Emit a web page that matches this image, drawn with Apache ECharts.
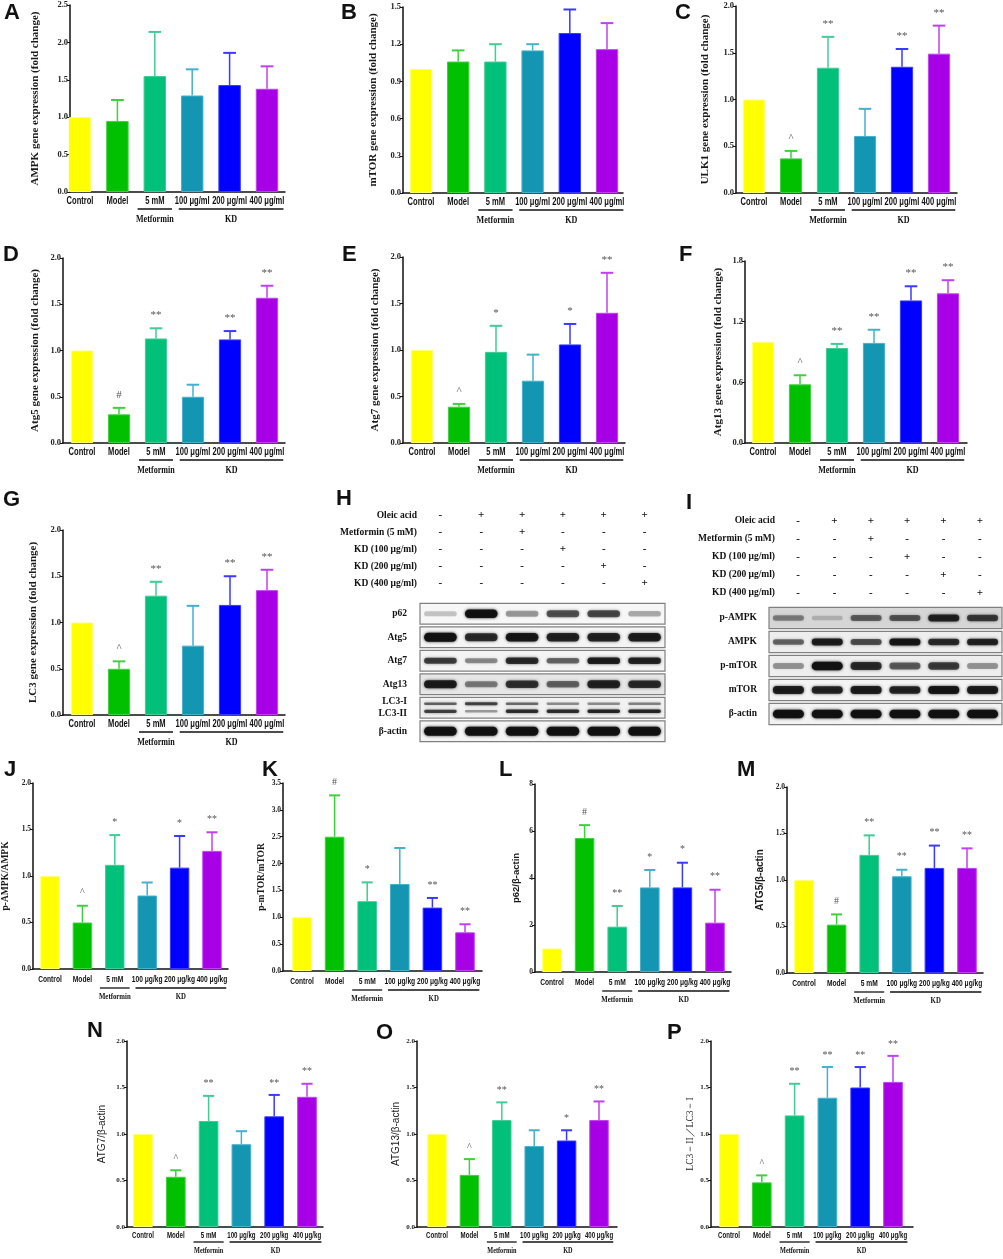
<!DOCTYPE html>
<html style="height: 100%">
<head>
  <meta charset="UTF-8" />
  <title>Autophagy markers</title>
  <script src="https://cdn.jsdelivr.net/npm/echarts/dist/echarts.min.js"></script>
  <script>
    // groups on the x axis
    const groupsMl = ['Control', 'Model', '5 mM', '100 μg/ml', '200 μg/ml', '400 μg/ml'];
    const groupsKg = ['Control', 'Model', '5 mM', '100 μg/kg', '200 μg/kg', '400 μg/kg'];
    const groupNames = ['Metformin', 'KD'];
    const barColors = ['#ffff00', '#00c000', '#00c07a', '#1496b2', '#0000ff', '#a800e6'];
    const errColors = ['#ffff70', '#3fd03f', '#40cc94', '#45b0cc', '#3a3aff', '#c040f0'];

    // gene expression (fold change): mean, top of error bar, mark
    const ampkMean = [1.0, 0.95, 1.55, 1.29, 1.43, 1.38];
    const ampkTop = [1.0, 1.23, 2.14, 1.64, 1.86, 1.68];
    const ampkSig = ['', '', '', '', '', ''];
    const mtorMean = [1.0, 1.06, 1.06, 1.15, 1.29, 1.16];
    const mtorTop = [1.0, 1.15, 1.2, 1.2, 1.48, 1.37];
    const mtorSig = ['', '', '', '', '', ''];
    const ulk1Mean = [1.0, 0.37, 1.34, 0.61, 1.35, 1.49];
    const ulk1Top = [1.0, 0.45, 1.67, 0.9, 1.54, 1.79];
    const ulk1Sig = ['', '^', '**', '', '**', '**'];
    const atg5Mean = [1.0, 0.31, 1.13, 0.5, 1.12, 1.57];
    const atg5Top = [1.0, 0.38, 1.24, 0.63, 1.21, 1.70];
    const atg5Sig = ['', '#', '**', '', '**', '**'];
    const atg7Mean = [1.0, 0.39, 0.98, 0.67, 1.06, 1.40];
    const atg7Top = [1.0, 0.42, 1.26, 0.95, 1.28, 1.83];
    const atg7Sig = ['', '^', '*', '', '*', '**'];
    const atg13Mean = [1.0, 0.58, 0.94, 0.99, 1.41, 1.48];
    const atg13Top = [1.0, 0.67, 0.98, 1.12, 1.55, 1.61];
    const atg13Sig = ['', '^', '**', '**', '**', '**'];
    const lc3Mean = [1.0, 0.5, 1.29, 0.75, 1.19, 1.35];
    const lc3Top = [1.0, 0.58, 1.44, 1.18, 1.50, 1.57];
    const lc3Sig = ['', '^', '**', '', '**', '**'];

    // protein ratios
    const pampkMean = [1.0, 0.5, 1.12, 0.79, 1.09, 1.27];
    const pampkTop = [1.0, 0.68, 1.44, 0.93, 1.43, 1.47];
    const pampkSig = ['', '^', '*', '', '*', '**'];
    const pmtorMean = [1.0, 2.5, 1.3, 1.62, 1.18, 0.72];
    const pmtorTop = [1.0, 3.27, 1.65, 2.29, 1.36, 0.87];
    const pmtorSig = ['', '#', '*', '', '**', '**'];
    const p62Mean = [1.0, 5.7, 1.93, 3.6, 3.6, 2.1];
    const p62Top = [1.0, 6.25, 2.81, 4.34, 4.65, 3.5];
    const p62Sig = ['', '#', '**', '*', '*', '**'];
    const ATG5Mean = [1.0, 0.52, 1.27, 1.04, 1.13, 1.13];
    const ATG5Top = [1.0, 0.63, 1.48, 1.11, 1.37, 1.34];
    const ATG5Sig = ['', '#', '**', '**', '**', '**'];
    const ATG7Mean = [1.0, 0.54, 1.14, 0.89, 1.19, 1.40];
    const ATG7Top = [1.0, 0.61, 1.41, 1.03, 1.42, 1.54];
    const ATG7Sig = ['', '^', '**', '', '**', '**'];
    const ATG13Mean = [1.0, 0.56, 1.15, 0.87, 0.93, 1.15];
    const ATG13Top = [1.0, 0.73, 1.34, 1.04, 1.04, 1.35];
    const ATG13Sig = ['', '^', '**', '', '*', '**'];
    const lc3RatioMean = [1.0, 0.48, 1.20, 1.39, 1.50, 1.56];
    const lc3RatioTop = [1.0, 0.555, 1.54, 1.72, 1.72, 1.84];
    const lc3RatioSig = ['', '^', '**', '**', '**', '**'];

    // western blots
    const lanes = ['1', '2', '3', '4', '5', '6'];
    const treatH = ['Oleic acid', 'Metformin (5 mM)', 'KD (100 μg/ml)', 'KD (200 μg/ml)', 'KD (400 μg/ml)'];
    const treatSigns = [
      ['-', '+', '+', '+', '+', '+'],
      ['-', '-', '+', '-', '-', '-'],
      ['-', '-', '-', '+', '-', '-'],
      ['-', '-', '-', '-', '+', '-'],
      ['-', '-', '-', '-', '-', '+']
    ];
    const blotRowsH = ['p62', 'Atg5', 'Atg7', 'Atg13', 'LC3-I\nLC3-II', 'β-actin'];
    const bandP62 = [0.12, 1.0, 0.3, 0.6, 0.65, 0.22];
    const bandAtg5 = [1.0, 0.8, 0.95, 0.85, 0.85, 0.9];
    const bandAtg7 = [0.7, 0.35, 0.8, 0.5, 0.9, 0.85];
    const bandAtg13 = [0.9, 0.4, 0.75, 0.5, 0.85, 0.8];
    const bandLc3I = [0.55, 0.7, 0.5, 0.35, 0.35, 0.4];
    const bandLc3II = [0.7, 0.3, 0.8, 0.8, 0.85, 0.85];
    const bandActinH = [1, 1, 1, 1, 1, 1];
    const blotRowsI = ['p-AMPK', 'AMPK', 'p-mTOR', 'mTOR', 'β-actin'];
    const bandPAmpk = [0.35, 0.1, 0.5, 0.55, 0.85, 0.7];
    const bandAmpk = [0.5, 0.9, 0.6, 0.95, 0.8, 0.85];
    const bandPMtor = [0.3, 1.0, 0.8, 0.55, 0.7, 0.3];
    const bandMtor = [0.9, 0.85, 0.9, 0.85, 0.95, 0.9];
    const bandActinI = [1, 1, 1, 1, 1, 1];

    const serif = "'Liberation Serif', 'Times New Roman', serif";
    const sans = "'Liberation Sans', Arial, sans-serif";

    const sizes = {
      big: { tick: 8.5, cat: 10.5, catScale: 0.72, group: 9.5, groupScale: 0.85, labelGap: 9, lineGap: 17, groupGap: 28, sig: 11, sigGap: 13 },
      mid: { tick: 7.5, cat: 9.5, catScale: 0.7, group: 8.5, groupScale: 0.8, labelGap: 10, lineGap: 19, groupGap: 28, sig: 10, sigGap: 13 },
      small: { tick: 7, cat: 9, catScale: 0.68, group: 8, groupScale: 0.78, labelGap: 9, lineGap: 15, groupGap: 24, sig: 10, sigGap: 12 }
    };

    // box: y-axis x, first bar x, bar step, axis end x, top, bottom
    const panels = [
      { tag: 'A', tagAt: [4, 2], title: 'AMPK gene expression (fold change)', cats: groupsMl, mean: ampkMean, top: ampkTop, sig: ampkSig, max: 2.5, step: 0.5, dec: 1, box: [70, 80, 37.4, 285, 5, 192], gap: 29, size: 'big', font: [serif, 'bold', 11] },
      { tag: 'B', tagAt: [341, 2], title: 'mTOR gene expression (fold change)', cats: groupsMl, mean: mtorMean, top: mtorTop, sig: mtorSig, max: 1.5, step: 0.3, dec: 1, box: [403, 421, 37.2, 623, 7, 193], gap: 24, size: 'big', font: [serif, 'bold', 11] },
      { tag: 'C', tagAt: [675, 2], title: 'ULK1 gene expression (fold change)', cats: groupsMl, mean: ulk1Mean, top: ulk1Top, sig: ulk1Sig, max: 2.0, step: 0.5, dec: 1, box: [736, 754, 37, 957, 6, 193], gap: 25, size: 'big', font: [serif, 'bold', 11] },
      { tag: 'D', tagAt: [3, 244], title: 'Atg5 gene expression (fold change)', cats: groupsMl, mean: atg5Mean, top: atg5Top, sig: atg5Sig, max: 2.0, step: 0.5, dec: 1, box: [63, 82, 37, 285, 258, 443], gap: 22, size: 'big', font: [serif, 'bold', 11] },
      { tag: 'E', tagAt: [342, 244], title: 'Atg7 gene expression (fold change)', cats: groupsMl, mean: atg7Mean, top: atg7Top, sig: atg7Sig, max: 2.0, step: 0.5, dec: 1, box: [403, 422, 37, 625, 257, 443], gap: 22, size: 'big', font: [serif, 'bold', 11] },
      { tag: 'F', tagAt: [679, 244], title: 'Atg13 gene expression (fold change)', cats: groupsMl, mean: atg13Mean, top: atg13Top, sig: atg13Sig, max: 1.8, step: 0.6, dec: 1, box: [745, 763, 37, 967, 261, 443], gap: 21, size: 'big', font: [serif, 'bold', 11] },
      { tag: 'G', tagAt: [3, 489], title: 'LC3 gene expression (fold change)', cats: groupsMl, mean: lc3Mean, top: lc3Top, sig: lc3Sig, max: 2.0, step: 0.5, dec: 1, box: [63, 82, 37, 285, 530, 715], gap: 24, size: 'big', font: [serif, 'bold', 11] },
      { tag: 'J', tagAt: [4, 759], title: 'p-AMPK/AMPK', cats: groupsKg, mean: pampkMean, top: pampkTop, sig: pampkSig, max: 2.0, step: 0.5, dec: 1, box: [33, 50, 32.4, 228, 783, 969], gap: 22, size: 'mid', font: [serif, 'bold', 9.5] },
      { tag: 'K', tagAt: [262, 759], title: 'p-mTOR/mTOR', cats: groupsKg, mean: pmtorMean, top: pmtorTop, sig: pmtorSig, max: 3.5, step: 0.5, dec: 1, box: [283, 302, 32.6, 482, 783, 971], gap: 16, size: 'mid', font: [serif, 'bold', 9.5] },
      { tag: 'L', tagAt: [499, 759], title: 'p62/β-actin', cats: groupsKg, mean: p62Mean, top: p62Top, sig: p62Sig, max: 8, step: 2, dec: 0, box: [535, 552, 32.6, 731, 784, 972], gap: 14, size: 'mid', font: [sans, 'bold', 9.5] },
      { tag: 'M', tagAt: [737, 759], title: 'ATG5/β-actin', cats: groupsKg, mean: ATG5Mean, top: ATG5Top, sig: ATG5Sig, max: 2.0, step: 0.5, dec: 1, box: [787, 804, 32.6, 983, 787, 973], gap: 22, size: 'mid', font: [sans, 'bold', 10] },
      { tag: 'N', tagAt: [87, 1020], title: 'ATG7/β-actin', cats: groupsKg, mean: ATG7Mean, top: ATG7Top, sig: ATG7Sig, max: 2.0, step: 0.5, dec: 1, box: [127, 143, 32.8, 323, 1041, 1227], gap: 20, size: 'small', font: [sans, 'normal', 10] },
      { tag: 'O', tagAt: [376, 1022], title: 'ATG13/β-actin', cats: groupsKg, mean: ATG13Mean, top: ATG13Top, sig: ATG13Sig, max: 2.0, step: 0.5, dec: 1, box: [417, 437, 32.4, 617, 1041, 1227], gap: 16, size: 'small', font: [sans, 'normal', 10] },
      { tag: 'P', tagAt: [667, 1022], title: 'LC3－II／LC3－I', cats: groupsKg, mean: lc3RatioMean, top: lc3RatioTop, sig: lc3RatioSig, max: 2.0, step: 0.5, dec: 1, box: [711, 729, 32.8, 913, 1041, 1227], gap: 16, size: 'small', font: [serif, 'normal', 9.5] }
    ];

    function errorBar(p, step, st) {
      return function (params, api) {
        const j = api.value(0);
        const a = api.coord([j, api.value(1)]);
        const b = api.coord([j, api.value(2)]);
        const half = step * 0.17;
        const kids = [];
        if (b[1] < a[1] - 0.5) {
          kids.push({ type: 'line', shape: { x1: a[0], y1: a[1], x2: b[0], y2: b[1] }, style: { stroke: errColors[j], lineWidth: 1.5 } });
          kids.push({ type: 'line', shape: { x1: b[0] - half, y1: b[1], x2: b[0] + half, y2: b[1] }, style: { stroke: errColors[j], lineWidth: 2 } });
        }
        const s = p.sig[params.dataIndex];
        if (s) {
          kids.push({
            type: 'text',
            style: { text: s, x: b[0], y: b[1] - st.sigGap, align: 'center', verticalAlign: 'middle', fontFamily: serif, fontSize: st.sig, fill: '#555' }
          });
        }
        return { type: 'group', children: kids };
      };
    }

    // narrow text: squeeze a normal face horizontally
    function narrowText(text, x, y, family, size, scale) {
      return {
        type: 'text', x: x, y: y, scaleX: scale,
        style: { text: text, x: 0, y: 0, align: 'center', verticalAlign: 'middle', fontFamily: family, fontWeight: 'bold', fontSize: size, fill: '#111' }
      };
    }

    function axisText(p, step, st) {
      return function (params, api) {
        const j = api.value(0);
        const c = api.coord([j, 0]);
        const kids = [narrowText(p.cats[j], c[0], c[1] + st.labelGap, sans, st.cat, st.catScale)];
        const ly = c[1] + st.lineGap;
        const gy = c[1] + st.groupGap;
        let x1, x2, name;
        if (j === 2) {
          x1 = c[0] - step * 0.46; x2 = c[0] + step * 0.46; name = groupNames[0];
        } else if (j === 3) {
          const e = api.coord([5, 0]);
          x1 = c[0] - step * 0.36; x2 = e[0] + step * 0.44; name = groupNames[1];
        }
        if (name) {
          kids.push({ type: 'line', shape: { x1: x1, y1: ly, x2: x2, y2: ly }, style: { stroke: '#111', lineWidth: 1.3 } });
          kids.push(narrowText(name, (x1 + x2) / 2, gy, serif, st.group, st.groupScale));
        }
        return { type: 'group', children: kids };
      };
    }

    function buildOption() {
      const grid = [], xAxis = [], yAxis = [], series = [], graphic = [];
      const axisStyle = { color: '#111', width: 1.5 };

      panels.forEach((p) => {
        const i = grid.length;
        const [axisX, firstX, step, endX, top, bottom] = p.box;
        const st = sizes[p.size];
        grid.push({ left: axisX, top: top, width: endX - axisX, height: bottom - top });
        xAxis.push({
          gridIndex: i, type: 'value',
          min: -(firstX - axisX) / step, max: (endX - firstX) / step,
          axisLine: { show: true, onZero: false, lineStyle: axisStyle },
          axisTick: { show: false }, axisLabel: { show: false }, splitLine: { show: false }
        });
        yAxis.push({
          gridIndex: i, type: 'value', min: 0, max: p.max, interval: p.step,
          name: p.title, nameLocation: 'middle', nameGap: p.gap, nameRotate: 90,
          nameTextStyle: { fontFamily: p.font[0], fontWeight: p.font[1], fontSize: p.font[2], color: '#1a1a1a' },
          axisLine: { show: true, onZero: false, lineStyle: axisStyle },
          axisTick: { show: true, length: 3, lineStyle: { color: '#111', width: 1 } },
          axisLabel: { fontFamily: serif, fontWeight: 'bold', fontSize: st.tick, color: '#222', margin: 2, formatter: v => v.toFixed(p.dec) },
          splitLine: { show: false }
        });
        series.push({
          type: 'bar', xAxisIndex: i, yAxisIndex: i, barWidth: step * 0.6, silent: true,
          data: p.mean.map((v, j) => ({ value: [j, v], itemStyle: { color: barColors[j], borderColor: errColors[j], borderWidth: 1 } }))
        });
        series.push({
          type: 'custom', xAxisIndex: i, yAxisIndex: i, silent: true,
          renderItem: errorBar(p, step, st),
          data: p.mean.map((v, j) => [j, v, p.top[j]])
        });
        series.push({
          type: 'custom', xAxisIndex: i, yAxisIndex: i, silent: true,
          renderItem: axisText(p, step, st),
          data: p.cats.map((c, j) => [j, 0])
        });
        graphic.push({ type: 'text', left: p.tagAt[0], top: p.tagAt[1], style: { text: p.tag, fontFamily: sans, fontWeight: 'bold', fontSize: 22, fill: '#111' } });
      });

      // treatment table and blot for one western-blot panel
      function blot(treatBox, treatMargin, blotBox, blotMargin, rows, layers, bgs) {
        const ti = grid.length;
        grid.push({ left: treatBox[0], top: treatBox[1], width: treatBox[2], height: treatBox[3] });
        xAxis.push({ gridIndex: ti, type: 'category', data: lanes, show: false });
        yAxis.push({
          gridIndex: ti, type: 'category', data: treatH, inverse: true,
          axisLine: { show: false }, axisTick: { show: false },
          axisLabel: { margin: treatMargin, fontFamily: serif, fontWeight: 'bold', fontSize: 9.5, color: '#111' }
        });
        const cells = [];
        treatSigns.forEach((r, ri) => r.forEach((s, li) => cells.push({ value: [li, ri], sign: s })));
        series.push({
          type: 'custom', xAxisIndex: ti, yAxisIndex: ti, silent: true,
          data: cells.map(c => c.value),
          renderItem: (params, api) => {
            const c = api.coord([api.value(0), api.value(1)]);
            return {
              type: 'text',
              style: { text: cells[params.dataIndex].sign, x: c[0], y: c[1], align: 'center', verticalAlign: 'middle', fontFamily: serif, fontWeight: 'bold', fontSize: 11, fill: '#111' }
            };
          }
        });

        const bi = grid.length;
        grid.push({ left: blotBox[0], top: blotBox[1], width: blotBox[2], height: blotBox[3] });
        xAxis.push({ gridIndex: bi, type: 'category', data: lanes, show: false });
        yAxis.push({
          gridIndex: bi, type: 'category', data: rows, inverse: true,
          axisLine: { show: false }, axisTick: { show: false },
          axisLabel: { margin: blotMargin, fontFamily: serif, fontWeight: 'bold', fontSize: 9.5, lineHeight: 12, color: '#111', align: 'right' }
        });
        series.push({
          type: 'custom', xAxisIndex: bi, yAxisIndex: bi, silent: true,
          data: rows.map((r, k) => [0, k]),
          renderItem: (params, api) => {
            const cs = params.coordSys;
            const c = api.coord([0, api.value(1)]);
            const h = api.size([1, 1])[1];
            return {
              type: 'rect',
              shape: { x: cs.x, y: c[1] - h * 0.44, width: cs.width, height: h * 0.88 },
              style: { fill: bgs[params.dataIndex], stroke: '#808080', lineWidth: 1.2 }
            };
          }
        });
        const bands = [];
        layers.forEach(l => l.values.forEach((k, li) => bands.push([li, l.row, k, l.off, l.h])));
        series.push({
          type: 'custom', xAxisIndex: bi, yAxisIndex: bi, silent: true,
          data: bands,
          renderItem: (params, api) => {
            const b = bands[params.dataIndex];
            const c = api.coord([b[0], b[1]]);
            const sz = api.size([1, 1]);
            const w = sz[0] * 0.8;
            const bh = sz[1] * b[4] * (0.55 + 0.45 * b[2]);
            const y = c[1] + b[3] * sz[1];
            const col = 'rgba(15,15,15,' + (0.1 + 0.85 * b[2]).toFixed(2) + ')';
            return {
              type: 'rect',
              shape: { x: c[0] - w / 2, y: y - bh / 2, width: w, height: bh, r: bh / 2 },
              style: { fill: col, shadowBlur: 3, shadowColor: col }
            };
          }
        });
      }

      blot([420, 507, 245, 85], 3, [420, 602, 245, 141], 13, blotRowsH, [
        { row: 0, off: 0, h: 0.36, values: bandP62 },
        { row: 1, off: 0, h: 0.38, values: bandAtg5 },
        { row: 2, off: 0, h: 0.3, values: bandAtg7 },
        { row: 3, off: 0, h: 0.36, values: bandAtg13 },
        { row: 4, off: -0.17, h: 0.14, values: bandLc3I },
        { row: 4, off: 0.15, h: 0.16, values: bandLc3II },
        { row: 5, off: 0, h: 0.38, values: bandActinH }
      ], ['#f7f7f7', '#f4f4f4', '#f4f4f4', '#e6e6e6', '#f2f2f2', '#f4f4f4']);

      blot([780, 512, 218, 90], 5, [769, 606, 233, 120], 12, blotRowsI, [
        { row: 0, off: 0, h: 0.32, values: bandPAmpk },
        { row: 1, off: 0, h: 0.3, values: bandAmpk },
        { row: 2, off: 0, h: 0.36, values: bandPMtor },
        { row: 3, off: 0, h: 0.34, values: bandMtor },
        { row: 4, off: 0, h: 0.36, values: bandActinI }
      ], ['#d6d6d6', '#eeeeee', '#eeeeee', '#f4f4f4', '#f2f2f2']);

      graphic.push({ type: 'text', left: 336, top: 488, style: { text: 'H', fontFamily: sans, fontWeight: 'bold', fontSize: 22, fill: '#111' } });
      graphic.push({ type: 'text', left: 686, top: 492, style: { text: 'I', fontFamily: sans, fontWeight: 'bold', fontSize: 22, fill: '#111' } });

      return { animation: false, backgroundColor: '#fff', grid, xAxis, yAxis, series, graphic };
    }

    window.onload = function () {
      const chart = echarts.init(document.getElementById('container'), null, { renderer: 'canvas' });
      chart.setOption(buildOption());
      window.addEventListener('resize', chart.resize);
    };
  </script>
</head>
<body style="height: 100%; margin: 0">
  <div id="container" style="width: 1003px; height: 1259px"></div>
</body>
</html>
